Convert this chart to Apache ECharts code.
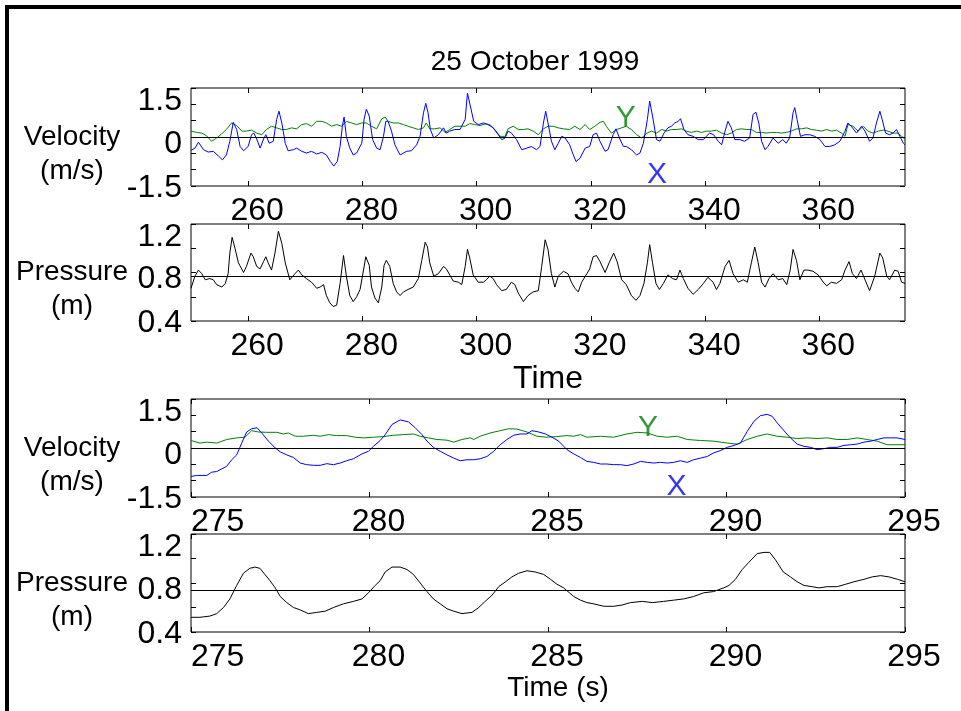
<!DOCTYPE html>
<html><head><meta charset="utf-8">
<script src="https://cdn.jsdelivr.net/npm/echarts@6/dist/echarts.min.js"></script>
<style>html,body{margin:0;padding:0;background:#fff}#c{width:961px;height:711px}</style>
</head><body><div id="c"></div>
<script>
// ---------- data (time s, value) ----------
const velXOverview = [[250.0,-0.41],[250.7,-0.34],[251.3,-0.16],[251.6,-0.13],[252.2,-0.39],[253.0,-0.46],[253.9,-0.44],[254.8,-0.58],[255.5,-0.70],[256.2,-0.55],[256.8,-0.13],[257.4,0.45],[258.0,0.23],[258.6,-0.29],[259.2,-0.42],[260.0,-0.29],[260.6,0.07],[261.0,0.12],[261.5,-0.06],[262.1,-0.34],[262.7,-0.06],[263.1,0.07],[263.7,-0.19],[264.4,-0.13],[265.0,0.54],[265.4,0.79],[265.9,0.43],[266.5,-0.19],[267.0,-0.42],[267.9,-0.39],[268.5,-0.34],[269.4,-0.44],[270.2,-0.49],[271.1,-0.44],[272.0,-0.52],[272.9,-0.47],[273.7,-0.55],[274.4,-0.75],[275.0,-0.89],[275.6,-0.75],[276.1,-0.29],[276.5,0.33],[276.8,0.61],[277.2,0.02],[277.8,-0.34],[278.4,-0.55],[279.0,-0.49],[279.9,-0.19],[280.3,0.54],[280.7,0.85],[281.2,0.64],[281.8,-0.08],[282.5,-0.34],[283.1,-0.39],[283.7,0.02],[284.1,0.48],[284.5,0.48],[285.1,0.18],[285.7,-0.24],[286.6,-0.55],[287.7,-0.44],[288.6,-0.42],[289.5,-0.24],[290.1,0.02],[290.7,0.74],[291.1,1.03],[291.5,0.74],[291.9,0.23],[292.5,-0.03],[293.3,0.07],[294.2,0.28],[294.7,0.12],[295.3,0.18],[296.2,0.23],[297.1,0.23],[298.0,0.54],[298.4,1.34],[298.9,0.95],[299.5,0.48],[300.3,0.38],[301.2,0.43],[302.0,0.38],[302.9,0.28],[303.8,0.07],[304.4,-0.08],[305.0,-0.03],[305.5,0.18],[306.1,0.12],[307.0,-0.08],[307.9,-0.39],[308.8,-0.34],[309.6,-0.29],[310.5,-0.39],[311.1,-0.29],[311.7,0.43],[312.1,0.79],[312.5,0.43],[313.1,-0.13],[313.7,-0.39],[314.3,-0.19],[314.9,0.02],[315.5,-0.03],[316.3,-0.24],[316.8,-0.49],[317.4,-0.75],[318.1,-0.65],[319.0,-0.34],[319.8,-0.29],[320.4,0.07],[321.0,0.12],[321.6,-0.13],[322.5,-0.44],[323.0,-0.39],[323.9,0.07],[324.4,0.25],[325.0,-0.03],[325.7,-0.29],[326.2,-0.29],[327.1,-0.39],[328.0,-0.55],[328.6,-0.49],[329.2,-0.19],[329.9,0.54],[330.3,1.10],[330.8,0.64],[331.5,-0.08],[332.1,-0.13],[332.8,0.12],[333.5,0.28],[334.1,0.33],[334.7,0.43],[335.3,0.48],[335.7,0.56],[336.3,0.23],[337.0,0.07],[337.9,0.02],[338.8,-0.08],[339.7,-0.08],[340.2,0.02],[340.8,0.12],[341.5,0.07],[342.3,-0.13],[342.9,-0.24],[343.5,0.18],[344.0,0.48],[344.6,0.28],[345.2,-0.08],[346.1,-0.08],[346.9,-0.13],[347.8,-0.03],[348.4,0.69],[348.9,0.76],[349.4,0.43],[349.9,-0.13],[350.5,-0.39],[351.0,-0.29],[351.9,-0.03],[352.8,-0.19],[353.6,-0.08],[354.2,-0.19],[354.8,-0.03],[355.4,0.74],[355.7,0.90],[356.1,0.54],[356.7,0.02],[357.5,0.07],[358.3,0.07],[359.2,0.02],[360.1,-0.08],[361.0,-0.29],[361.8,-0.29],[362.7,-0.24],[363.6,-0.13],[364.5,0.18],[365.0,0.43],[365.6,0.33],[366.5,0.12],[367.4,0.33],[368.0,0.18],[368.8,-0.13],[369.4,-0.03],[370.0,0.43],[370.6,0.79],[371.0,0.54],[371.6,0.12],[372.3,0.07],[372.9,0.12],[373.5,0.23],[374.1,0.02],[374.7,-0.19],[375.0,-0.24]];

const velYOverview = [[250.0,0.18],[251.0,0.14],[251.9,0.12],[252.7,0.04],[253.6,-0.13],[254.5,-0.03],[255.4,0.10],[256.2,0.23],[257.1,0.43],[258.0,0.35],[258.9,0.18],[259.7,0.18],[260.6,0.21],[261.5,0.12],[262.4,0.07],[263.2,0.23],[264.1,0.33],[265.0,0.28],[265.9,0.23],[266.7,0.23],[267.6,0.28],[268.5,0.25],[269.4,0.38],[270.2,0.41],[271.1,0.33],[272.0,0.48],[272.9,0.48],[273.7,0.43],[274.6,0.33],[275.5,0.38],[276.4,0.33],[277.2,0.48],[278.1,0.43],[279.0,0.38],[279.9,0.43],[280.7,0.43],[281.6,0.33],[282.5,0.25],[283.4,0.56],[284.0,0.61],[284.5,0.48],[285.4,0.43],[286.3,0.43],[287.2,0.38],[288.0,0.33],[288.9,0.28],[289.8,0.23],[290.7,0.28],[291.2,0.43],[291.8,0.25],[292.7,0.25],[293.6,0.28],[294.5,0.14],[295.3,0.23],[296.2,0.33],[297.1,0.33],[298.0,0.33],[298.8,0.41],[299.7,0.38],[300.6,0.35],[301.5,0.40],[302.3,0.38],[303.2,0.23],[304.1,0.02],[305.0,0.02],[305.5,0.25],[306.4,0.33],[307.3,0.23],[308.2,0.23],[309.0,0.25],[309.9,0.18],[310.8,0.07],[311.7,0.25],[312.5,0.33],[313.4,0.33],[314.3,0.28],[315.2,0.25],[316.3,0.23],[317.2,0.33],[318.1,0.23],[319.0,0.38],[319.8,0.23],[320.7,0.33],[321.6,0.45],[322.2,0.48],[322.7,0.33],[323.6,0.12],[324.5,0.23],[325.4,0.28],[326.2,0.33],[327.1,0.23],[328.0,0.07],[328.9,-0.03],[329.8,0.12],[330.6,0.18],[331.5,0.12],[332.4,0.23],[333.3,0.18],[334.1,0.23],[335.0,0.23],[335.9,0.25],[336.7,0.18],[337.6,0.14],[338.5,0.18],[339.4,0.14],[340.2,0.18],[341.1,0.18],[342.0,0.21],[342.9,0.12],[343.8,0.07],[344.6,0.12],[345.5,0.23],[346.4,0.25],[347.3,0.23],[348.1,0.23],[349.0,0.14],[349.9,0.14],[350.7,0.12],[351.6,0.14],[352.5,0.14],[353.4,0.12],[354.2,0.14],[355.1,0.18],[356.0,0.25],[356.9,0.25],[357.8,0.28],[358.6,0.23],[359.5,0.21],[360.4,0.18],[361.3,0.23],[362.1,0.18],[363.0,0.21],[363.9,0.12],[364.5,0.02],[365.0,0.38],[365.9,0.33],[366.8,0.18],[367.7,0.33],[368.5,0.18],[369.4,0.12],[370.3,0.18],[371.2,0.21],[372.0,0.18],[372.9,0.12],[373.8,0.12],[374.4,0.02],[375.0,-0.06]];

const pressureOverview = [[250.0,0.67],[250.7,0.77],[251.3,0.82],[251.9,0.79],[252.5,0.74],[253.3,0.75],[253.9,0.74],[254.5,0.70],[255.4,0.68],[256.0,0.71],[256.5,0.79],[256.8,0.96],[257.2,1.09],[257.7,1.00],[258.3,0.88],[259.2,0.80],[259.7,0.85],[260.5,0.96],[260.9,0.93],[261.5,0.85],[262.1,0.83],[262.7,0.89],[263.1,0.93],[263.5,0.88],[264.1,0.82],[264.7,0.96],[265.3,1.14],[265.9,1.04],[266.5,0.88],[267.3,0.74],[268.2,0.79],[268.8,0.82],[269.4,0.78],[270.2,0.75],[271.1,0.72],[272.0,0.67],[272.6,0.68],[273.2,0.70],[273.7,0.61],[274.3,0.55],[274.9,0.52],[275.5,0.53],[276.1,0.71],[276.7,0.94],[277.2,0.77],[277.8,0.61],[278.4,0.56],[279.0,0.60],[279.6,0.66],[280.2,0.82],[280.6,0.93],[281.2,0.86],[281.6,0.68],[282.2,0.59],[282.8,0.55],[283.4,0.68],[283.8,0.86],[284.2,0.90],[284.8,0.85],[285.4,0.71],[286.0,0.64],[286.6,0.61],[287.2,0.64],[288.0,0.66],[288.9,0.68],[289.8,0.75],[290.4,0.90],[291.0,1.05],[291.4,1.01],[291.8,0.88],[292.5,0.77],[293.3,0.79],[294.2,0.85],[294.7,0.83],[295.3,0.78],[295.9,0.73],[296.8,0.72],[297.4,0.70],[298.0,0.85],[298.4,0.99],[298.8,0.92],[299.4,0.78],[300.3,0.72],[301.2,0.72],[301.7,0.74],[302.3,0.77],[302.9,0.75],[303.5,0.70],[304.4,0.65],[305.2,0.66],[306.1,0.72],[306.7,0.70],[307.3,0.63],[308.2,0.56],[309.0,0.61],[309.9,0.64],[310.8,0.65],[311.4,0.85],[312.0,1.07],[312.5,0.99],[313.1,0.79],[313.7,0.68],[314.3,0.77],[315.2,0.81],[316.0,0.79],[316.6,0.72],[317.2,0.67],[317.8,0.64],[318.4,0.72],[319.3,0.79],[319.8,0.83],[320.4,0.93],[321.0,0.94],[321.6,0.89],[322.5,0.80],[323.2,0.88],[324.0,0.96],[324.6,0.89],[325.4,0.74],[326.2,0.70],[327.1,0.61],[327.9,0.57],[328.6,0.61],[329.3,0.71],[329.9,0.88],[330.3,1.03],[330.8,0.88],[331.4,0.71],[332.0,0.66],[332.7,0.71],[333.5,0.78],[334.3,0.75],[335.0,0.74],[335.6,0.82],[336.2,0.75],[337.0,0.67],[337.9,0.62],[338.8,0.66],[339.7,0.71],[340.5,0.76],[341.4,0.72],[342.0,0.66],[342.6,0.71],[343.5,0.85],[344.2,0.90],[344.9,0.79],[345.8,0.72],[346.7,0.74],[347.4,0.72],[348.1,0.88],[348.7,1.01],[349.3,0.88],[349.9,0.72],[350.5,0.68],[351.2,0.75],[351.9,0.79],[352.8,0.74],[353.6,0.75],[354.3,0.70],[354.9,0.82],[355.4,0.99],[356.0,0.90],[356.6,0.74],[357.3,0.82],[358.0,0.82],[358.9,0.81],[359.8,0.78],[360.7,0.72],[361.3,0.69],[362.1,0.72],[363.0,0.71],[363.9,0.74],[364.5,0.82],[365.2,0.89],[365.8,0.79],[366.5,0.75],[367.3,0.82],[368.0,0.74],[368.8,0.65],[369.7,0.77],[370.6,0.96],[371.1,0.92],[371.8,0.77],[372.3,0.74],[373.2,0.82],[373.8,0.81],[374.4,0.72],[375.0,0.71]];

const velXDetail = [[275.0,-0.87],[275.16,-0.84],[275.44,-0.84],[275.58,-0.74],[275.72,-0.72],[275.86,-0.64],[276.0,-0.56],[276.14,-0.36],[276.28,-0.21],[276.42,0.15],[276.56,0.49],[276.7,0.59],[276.85,0.62],[276.98,0.46],[277.17,0.21],[277.36,0.0],[277.5,-0.12],[277.68,-0.21],[277.87,-0.29],[278.06,-0.46],[278.24,-0.51],[278.43,-0.53],[278.62,-0.53],[278.8,-0.48],[278.99,-0.51],[279.18,-0.46],[279.36,-0.39],[279.55,-0.33],[279.79,-0.18],[279.97,-0.10],[280.11,0.05],[280.3,0.23],[280.44,0.41],[280.63,0.72],[280.86,0.86],[281.09,0.80],[281.28,0.62],[281.47,0.41],[281.61,0.21],[281.79,0.02],[281.98,-0.10],[282.17,-0.21],[282.36,-0.31],[282.54,-0.39],[282.73,-0.36],[282.92,-0.36],[283.1,-0.33],[283.29,-0.26],[283.48,-0.10],[283.66,0.10],[283.85,0.26],[284.04,0.39],[284.22,0.43],[284.41,0.43],[284.55,0.53],[284.74,0.49],[284.93,0.43],[285.11,0.33],[285.3,0.21],[285.53,-0.05],[285.72,-0.18],[285.91,-0.29],[286.09,-0.41],[286.28,-0.44],[286.47,-0.49],[286.65,-0.49],[286.84,-0.51],[287.03,-0.51],[287.21,-0.54],[287.4,-0.49],[287.59,-0.41],[287.78,-0.44],[287.96,-0.46],[288.01,-0.51],[288.15,-0.44],[288.34,-0.46],[288.52,-0.44],[288.71,-0.39],[288.9,-0.44],[289.08,-0.36],[289.27,-0.31],[289.46,-0.26],[289.64,-0.15],[289.83,-0.08],[290.02,0.02],[290.21,0.08],[290.39,0.15],[290.58,0.51],[290.77,0.82],[290.95,0.99],[291.14,1.03],[291.28,0.97],[291.42,0.77],[291.61,0.53],[291.79,0.31],[291.98,0.12],[292.17,0.05],[292.36,0.02],[292.54,-0.05],[292.73,-0.02],[292.92,0.02],[293.1,0.02],[293.29,0.08],[293.48,0.10],[293.66,0.12],[293.85,0.18],[294.04,0.21],[294.22,0.26],[294.41,0.31],[294.6,0.31],[294.78,0.31],[295.0,0.26]];

const velYDetail = [[275.0,0.23],[275.25,0.15],[275.44,0.18],[275.72,0.15],[276.0,0.26],[276.28,0.31],[276.51,0.33],[276.7,0.53],[276.89,0.49],[277.12,0.48],[277.4,0.48],[277.59,0.43],[277.73,0.46],[277.92,0.36],[278.15,0.36],[278.43,0.39],[278.62,0.36],[278.85,0.41],[279.08,0.38],[279.36,0.38],[279.6,0.33],[279.83,0.31],[280.11,0.33],[280.39,0.35],[280.67,0.39],[280.95,0.41],[281.23,0.43],[281.42,0.36],[281.65,0.31],[281.89,0.26],[282.17,0.24],[282.36,0.18],[282.59,0.26],[282.82,0.31],[282.92,0.26],[283.1,0.36],[283.38,0.46],[283.66,0.53],[283.9,0.59],[284.13,0.58],[284.41,0.49],[284.69,0.36],[284.97,0.33],[285.25,0.35],[285.53,0.38],[285.72,0.36],[285.91,0.41],[286.09,0.33],[286.47,0.36],[286.84,0.33],[287.21,0.43],[287.5,0.48],[287.78,0.46],[288.06,0.36],[288.34,0.33],[288.62,0.36],[288.9,0.26],[289.27,0.23],[289.64,0.21],[290.02,0.15],[290.3,0.12],[290.58,0.26],[290.86,0.36],[291.14,0.43],[291.42,0.36],[291.7,0.33],[291.98,0.29],[292.26,0.31],[292.54,0.29],[292.82,0.31],[293.1,0.26],[293.38,0.26],[293.66,0.31],[293.94,0.26],[294.22,0.21],[294.5,0.10],[294.78,0.10],[295.0,0.10]];

const pressureDetail = [[275.0,0.52],[275.25,0.52],[275.53,0.53],[275.72,0.55],[275.91,0.60],[276.09,0.67],[276.28,0.78],[276.47,0.88],[276.65,0.92],[276.79,0.93],[276.93,0.92],[277.07,0.87],[277.21,0.82],[277.36,0.76],[277.5,0.69],[277.68,0.64],[277.87,0.60],[278.06,0.58],[278.29,0.55],[278.52,0.56],[278.76,0.57],[278.99,0.60],[279.27,0.63],[279.55,0.65],[279.79,0.67],[279.97,0.72],[280.16,0.78],[280.3,0.82],[280.44,0.89],[280.63,0.93],[280.86,0.93],[281.05,0.91],[281.23,0.87],[281.42,0.80],[281.61,0.73],[281.79,0.67],[281.98,0.63],[282.17,0.59],[282.36,0.57],[282.59,0.55],[282.87,0.56],[283.06,0.60],[283.24,0.65],[283.43,0.70],[283.62,0.77],[283.81,0.81],[283.99,0.85],[284.18,0.88],[284.41,0.90],[284.64,0.89],[284.88,0.87],[285.07,0.83],[285.25,0.79],[285.44,0.76],[285.6,0.72],[285.72,0.69],[285.91,0.66],[286.09,0.64],[286.28,0.63],[286.56,0.61],[286.84,0.61],[287.07,0.62],[287.31,0.64],[287.64,0.65],[287.92,0.64],[288.24,0.65],[288.52,0.66],[288.8,0.67],[289.08,0.69],[289.36,0.72],[289.64,0.73],[289.92,0.76],[290.07,0.78],[290.25,0.83],[290.44,0.91],[290.63,0.97],[290.86,1.04],[291.05,1.05],[291.21,1.05],[291.37,0.99],[291.59,0.89],[291.79,0.85],[291.98,0.81],[292.17,0.78],[292.4,0.77],[292.59,0.76],[292.82,0.77],[293.1,0.77],[293.34,0.79],[293.57,0.81],[293.85,0.83],[294.08,0.85],[294.32,0.86],[294.55,0.85],[294.79,0.83],[295.0,0.81]];

const pressureMeanOverview = 0.765;
const pressureMeanDetail = 0.74;

const overviewTicks = [260, 280, 300, 320, 340, 360];
const detailTicks = [275, 280, 285, 290, 295];
const velocityTicks = [-1.5, -1, -0.5, 0, 0.5, 1, 1.5];
const velocityTickLabels = [-1.5, 0, 1.5];
const pressureTicks = [0.4, 0.6, 0.8, 1.0, 1.2];
const pressureTickLabels = [0.4, 0.8, 1.2];

const annotOverviewY = [326.1, 0.59];
const annotOverviewX = [331.6, -1.15];
const annotDetailY = [287.8, 0.62];
const annotDetailX = [288.6, -1.2];

// ---------- styling ----------
const FONT = '"Liberation Sans", Arial, Helvetica, sans-serif';
const BLUE = '#0000ff', GREEN = '#008000', BLACK = '#000000';

const grids = [
  {left: 191, top: 88, width: 714, height: 98},
  {left: 191, top: 224, width: 714, height: 97},
  {left: 191, top: 399, width: 714, height: 98},
  {left: 191, top: 534, width: 714, height: 98}
].map(g => Object.assign({show: true, borderColor: BLACK, borderWidth: 1, backgroundColor: 'transparent', containLabel: false}, g));

const tickStyle = (vals) => ({show: true, inside: true, length: 5, lineStyle: {color: BLACK, width: 1}, customValues: vals});
const noLine = {show: false, onZero: false};

function xAxes(g, min, max, ticks, nameText, nameGap) {
  const bottom = {
    gridIndex: g, type: 'value', position: 'bottom', min, max,
    axisLine: noLine, splitLine: {show: false}, axisTick: tickStyle(ticks),
    axisLabel: {
      show: true, customValues: ticks, margin: 9, color: BLACK, fontSize: 32, fontFamily: FONT,
      showMinLabel: true, showMaxLabel: true,
      alignMinLabel: (min === ticks[0]) ? 'left' : 'center',
      formatter: v => (v === min ? '{a|' + v + '}' : '{b|' + v + '}'),
      rich: {
        a: {fontSize: 32, fontFamily: FONT, color: BLACK, lineHeight: 32},
        b: {fontSize: 32, fontFamily: FONT, color: BLACK, lineHeight: 32, padding: [0, 0, 0, 18]}
      }
    }
  };
  if (nameText) {
    Object.assign(bottom, {
      name: nameText.text, nameLocation: 'middle', nameGap: nameGap,
      nameTextStyle: {fontSize: nameText.size, fontFamily: FONT, color: BLACK, align: 'center', verticalAlign: 'middle', padding: nameText.padding || 0}
    });
  }
  const top = {
    gridIndex: g, type: 'value', position: 'top', min, max,
    axisLine: noLine, splitLine: {show: false}, axisTick: tickStyle(ticks), axisLabel: {show: false}
  };
  return [bottom, top];
}

function fmtNum(v) { return String(v); }
const labelRich = {
  t: {fontSize: 32, fontFamily: FONT, color: BLACK, lineHeight: 18, padding: [26, 0, 0, 0]},
  m: {fontSize: 32, fontFamily: FONT, color: BLACK, lineHeight: 18, padding: [14, 0, 0, 0]},
  b: {fontSize: 32, fontFamily: FONT, color: BLACK, lineHeight: 18, padding: [4, 0, 0, 0]}
};

// three y axes per grid: left (ticks + end labels + name), left (middle label), right (ticks)
function yAxes(g, min, max, ticks, labels, nameText) {
  const keyOf = v => (v === max ? 't' : (v === min ? 'b' : 'm'));
  const ends = labels.filter(v => v === min || v === max);
  const mids = labels.filter(v => v !== min && v !== max);
  const left = {
    gridIndex: g, type: 'value', position: 'left', min, max,
    axisLine: noLine, splitLine: {show: false}, axisTick: tickStyle(ticks),
    axisLabel: {
      show: true, customValues: ends, margin: 9, color: BLACK, fontSize: 32, fontFamily: FONT,
      showMinLabel: true, showMaxLabel: true,
      formatter: v => '{' + keyOf(v) + '|' + fmtNum(v) + '}', rich: labelRich
    },
    name: '\n' + nameText, nameLocation: 'middle', nameRotate: 0, nameGap: 119,
    nameTextStyle: {fontSize: 28, fontFamily: FONT, color: BLACK, align: 'center', verticalAlign: 'middle', lineHeight: 34}
  };
  const leftMid = {
    gridIndex: g, type: 'value', position: 'left', min, max,
    axisLine: noLine, splitLine: {show: false}, axisTick: {show: false},
    axisLabel: {
      show: true, customValues: mids, margin: 9, color: BLACK, fontSize: 32, fontFamily: FONT,
      showMinLabel: true, showMaxLabel: true,
      formatter: v => '{' + keyOf(v) + '|' + fmtNum(v) + '}', rich: labelRich
    }
  };
  const right = {
    gridIndex: g, type: 'value', position: 'right', min, max,
    axisLine: noLine, splitLine: {show: false}, axisTick: tickStyle(ticks), axisLabel: {show: false}
  };
  return [left, leftMid, right];
}

const xAxis = [].concat(
  xAxes(0, 250, 375, overviewTicks),
  xAxes(1, 250, 375, overviewTicks, {text: 'Time', size: 32}, 45),
  xAxes(2, 275, 295, detailTicks),
  xAxes(3, 275, 295, detailTicks, {text: 'Time (s)', size: 28, padding: [0, 0, 0, 20]}, 47)
);
const yAxis = [].concat(
  yAxes(0, -1.5, 1.5, velocityTicks, velocityTickLabels, 'Velocity\n(m/s)'),
  yAxes(1, 0.4, 1.2, pressureTicks, pressureTickLabels, 'Pressure\n(m)'),
  yAxes(2, -1.5, 1.5, velocityTicks, velocityTickLabels, 'Velocity\n(m/s)'),
  yAxes(3, 0.4, 1.2, pressureTicks, pressureTickLabels, 'Pressure\n(m)')
);

function refLine(value) {
  return {silent: true, symbol: 'none', animation: false, label: {show: false},
    lineStyle: {color: BLACK, width: 1, type: 'solid'}, data: [{yAxis: value}]};
}
function lineSeries(g, data, color, mark) {
  const s = {type: 'line', xAxisIndex: 2 * g, yAxisIndex: 3 * g, data, showSymbol: false, symbol: 'none',
    lineStyle: {color, width: 1}, itemStyle: {color}, animation: false, z: 3};
  if (mark !== undefined) s.markLine = refLine(mark);
  return s;
}
function letter(g, pos, text, color) {
  return {type: 'scatter', xAxisIndex: 2 * g, yAxisIndex: 3 * g, data: [pos], symbol: 'circle', symbolSize: 1,
    itemStyle: {color: 'rgba(0,0,0,0)'}, silent: true, animation: false, z: 5,
    label: {show: true, position: 'inside', formatter: text, color, fontSize: 30, fontFamily: FONT}};
}

const series = [
  lineSeries(0, velYOverview, GREEN),
  lineSeries(0, velXOverview, BLUE, 0),
  letter(0, annotOverviewY, 'Y', GREEN),
  letter(0, annotOverviewX, 'X', BLUE),
  lineSeries(1, pressureOverview, BLACK, pressureMeanOverview),
  lineSeries(2, velYDetail, GREEN),
  lineSeries(2, velXDetail, BLUE, 0),
  letter(2, annotDetailY, 'Y', GREEN),
  letter(2, annotDetailX, 'X', BLUE),
  lineSeries(3, pressureDetail, BLACK, pressureMeanDetail)
];

const chart = echarts.init(document.getElementById('c'), null, {renderer: 'canvas'});
chart.setOption({
  animation: false,
  backgroundColor: '#ffffff',
  title: {text: '25 October 1999', left: 530, top: 43, textAlign: 'center',
    textStyle: {fontSize: 28, fontWeight: 'normal', fontFamily: FONT, color: BLACK, lineHeight: 28}},
  grid: grids,
  xAxis, yAxis, series,
  graphic: [{type: 'rect', silent: true, shape: {x: 7, y: 7, width: 1000, height: 800},
    style: {fill: 'none', stroke: BLACK, lineWidth: 4}, z: 100}]
});
</script></body></html>
